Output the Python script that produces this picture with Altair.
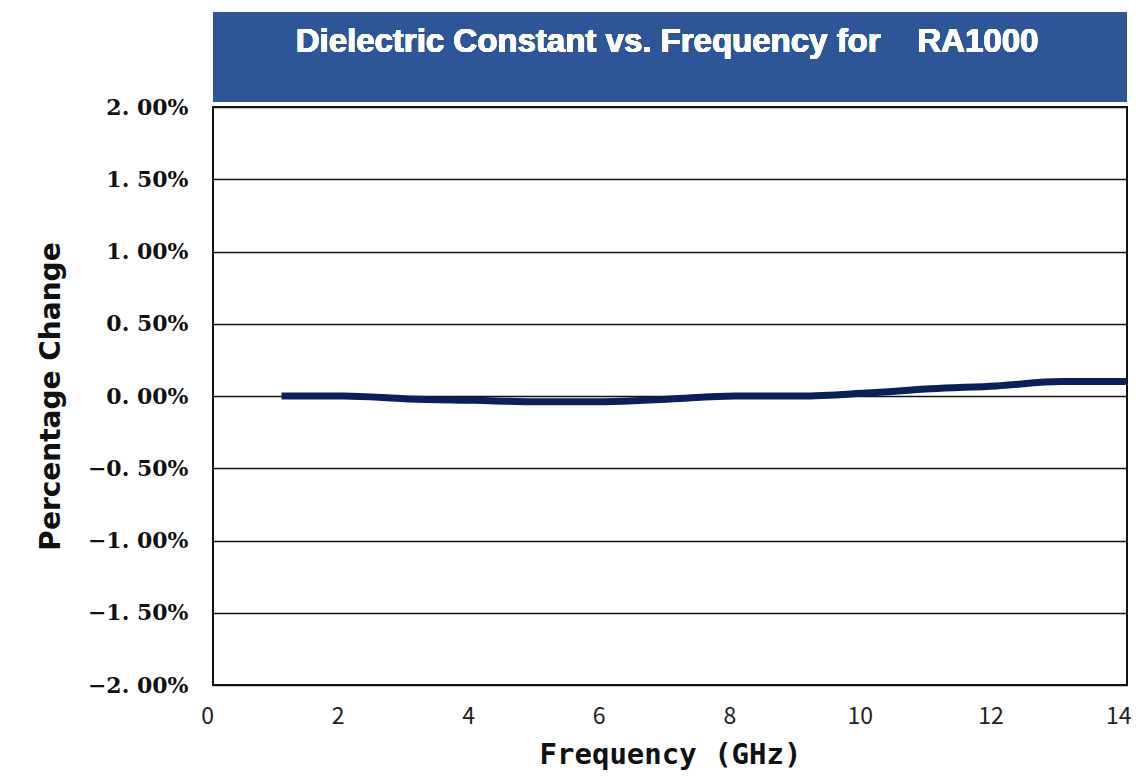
import altair as alt
import pandas as pd

freq = [1.05, 2, 3, 4, 5, 6, 7, 8, 9, 10, 11, 12, 13, 14]
pct = [0.0000, 0.0000, -0.0002, -0.0003, -0.0004, -0.0004, -0.0002, 0.0000, 0.0000, 0.0002, 0.0005, 0.0007, 0.0010, 0.0010]
title_text = "Dielectric Constant vs. Frequency for\u00a0\u00a0\u00a0\u00a0RA1000"

df = pd.DataFrame({"freq": freq, "pct": pct})

W, H = 914, 578

line = alt.Chart(df).mark_line(color="#0B1F5C", strokeWidth=7, interpolate="monotone").encode(
    x=alt.X("freq:Q", scale=alt.Scale(domain=[0, 14], nice=False),
            axis=alt.Axis(values=[0, 2, 4, 6, 8, 10, 12, 14], grid=False, ticks=False, domain=False,
                          labelFont="Noto Sans CJK JP", labelFontSize=23, labelColor="#222",
                          labelPadding=20,
                          labelAlign={"condition": {"test": "datum.value == 14", "value": "right"}, "value": "center"},
                          labelOffset={"condition": {"test": "datum.value == 14", "value": 4}, "value": -6},
                          title="Frequency (GHz)",
                          titleFont="DejaVu Sans Mono", titleFontSize=29, titleFontWeight="bold",
                          titleColor="#111", titlePadding=12, labelFlush=False)),
    y=alt.Y("pct:Q", scale=alt.Scale(domain=[-0.02, 0.02], nice=False),
            axis=alt.Axis(values=[-0.02, -0.015, -0.01, -0.005, 0, 0.005, 0.01, 0.015, 0.02],
                          labelExpr="replace(format(datum.value, '.2%'), '.', '. ')",
                          grid=True, gridColor="#111", gridWidth=1.5, ticks=False, domain=False,
                          labelFont="DejaVu Serif", labelFontSize=22, labelFontWeight="bold",
                          labelColor="#111", labelPadding=25,
                          title="Percentage Change", titleFont="DejaVu Sans",
                          titleFontSize=28, titleFontWeight="bold", titleColor="#111",
                          titlePadding=22)),
)

banner = alt.Chart(df).mark_rect(color="#2E5597").encode(
    x=alt.value(0), x2=alt.value(W), y=alt.value(-95), y2=alt.value(-5)
)
banner_text = alt.Chart(df).mark_text(
    text=title_text, color="white", font="Liberation Sans", fontSize=33, fontWeight="bold",
    align="center", baseline="middle"
).encode(x=alt.value(W / 2 - 3), y=alt.value(-65))

chart = alt.layer(banner, banner_text, line).properties(
    width=W, height=H, background="white",
    autosize=alt.AutoSizeParams(type="none"),
    padding={"left": 205, "top": 99, "right": 5, "bottom": 91}
).configure_view(stroke="#111", strokeWidth=2)

chart.save("out.html", embed_options={"renderer": "svg", "actions": False})
